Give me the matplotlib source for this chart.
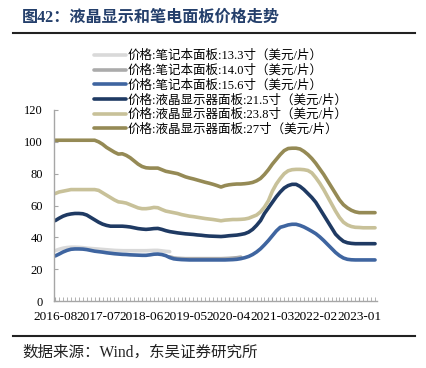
import matplotlib
matplotlib.use("Agg")
import matplotlib.pyplot as plt
import numpy as np

plt.rcParams["font.family"] = ["Liberation Serif", "Noto Sans CJK SC"]

nan = np.nan

# monthly, 2016-08 .. 2023-05
months = [f"{2016 + (7 + i) // 12}-{(7 + i) % 12 + 1:02d}" for i in range(82)]
tick_idx = [0, 11, 22, 33, 44, 55, 66, 77]

p133 = [31.6, 32.5, 33.2, 33.6, 33.8, 33.8, 33.7, 33.5, 33.2, 33.0,
        32.8, 32.6, 32.4, 32.2, 32.0, 31.8, 31.7, 31.6, 31.6, 31.6,
        31.6, 31.6, 31.6, 31.6, 31.7, 31.8, 31.8, 31.5, 31.2, 31.0] + [nan] * 52

# mostly hidden under the 15.6 line
p140 = [nan] * 29 + [
    27.8, 27.1, 26.8, 26.7, 26.6, 26.6, 26.6, 26.6, 26.6, 26.6,
    26.6, 26.6, 26.6, 26.6, 26.7, 26.8, 27.0, 27.2, 27.6] + [nan] * 34

p156 = [28.3, 29.5, 30.8, 31.8, 32.5, 32.7, 32.7, 32.6, 32.3, 31.8,
        31.3, 31.0, 30.7, 30.3, 30.0, 29.7, 29.5, 29.3, 29.2, 29.0,
        28.9, 28.8, 28.7, 28.7, 29.0, 29.4, 29.5, 29.2, 28.5, 27.3,
        26.5, 26.2, 26.0, 25.9, 25.8, 25.8, 25.8, 25.8, 25.8, 25.8,
        25.8, 25.8, 25.8, 25.8, 25.9, 26.0, 26.2, 26.6, 27.2, 28.0,
        29.2, 30.8, 32.8, 35.3, 38.0, 41.0, 44.0, 46.3, 47.0, 47.8,
        48.2, 48.2, 47.5, 46.5, 45.2, 43.8, 42.3, 40.3, 38.0, 35.5,
        33.0, 30.5, 28.5, 27.0, 26.2, 25.9, 25.8, 25.8, 25.8, 25.8,
        25.8, 25.8]

p215 = [50.5, 52.0, 53.3, 54.2, 54.7, 55.0, 55.0, 54.8, 54.0, 52.5,
        51.0, 49.5, 48.3, 47.5, 47.0, 47.0, 47.0, 47.0, 46.8, 46.5,
        46.0, 45.5, 45.2, 45.0, 45.2, 45.5, 45.6, 45.0, 44.2, 43.6,
        43.2, 42.8, 42.5, 42.2, 42.0, 41.8, 41.5, 41.3, 41.0, 40.8,
        40.7, 40.6, 40.5, 40.7, 41.0, 41.2, 41.4, 41.8, 42.3, 43.3,
        45.0, 47.5, 50.5, 55.0, 58.5, 62.0, 65.5, 68.5, 71.0, 72.5,
        73.3, 73.3, 72.0, 70.0, 67.5, 65.0, 62.0, 58.0, 54.0, 50.0,
        46.0, 42.0, 39.5, 37.5, 36.6, 36.2, 36.0, 36.0, 36.0, 36.0,
        36.0, 36.0]

p238 = [67.5, 68.5, 69.0, 69.5, 70.0, 70.0, 70.0, 70.0, 70.0, 70.0,
        70.0, 69.5, 68.0, 66.5, 65.0, 63.5, 62.3, 62.0, 61.5, 60.5,
        59.5, 58.5, 58.0, 58.0, 58.3, 58.8, 58.6, 57.5, 56.5, 56.0,
        55.5, 55.0, 54.3, 53.8, 53.3, 53.0, 52.6, 52.2, 51.8, 51.5,
        51.2, 50.8, 50.4, 50.8, 51.0, 51.2, 51.2, 51.3, 51.5, 52.0,
        53.0, 54.0, 56.0, 59.0, 63.0, 69.0, 73.5, 77.0, 80.0, 81.8,
        82.5, 82.7, 82.7, 82.5, 82.0, 80.5, 77.5, 74.0, 70.0, 65.5,
        61.0, 56.5, 52.5, 49.5, 47.8, 46.8, 46.3, 46.2, 46.0, 46.0,
        46.0, 46.0]

p270 = [101.0, 101.0, 101.0, 101.0, 101.0, 101.0, 101.0, 101.0, 101.0, 101.0,
        101.0, 100.0, 98.5, 96.5, 95.0, 93.5, 92.3, 92.5, 91.5, 90.0,
        88.0, 86.0, 84.5, 83.7, 83.5, 83.5, 83.5, 82.5, 81.5, 81.0,
        80.5, 80.0, 79.0, 78.0, 77.3, 76.7, 76.0, 75.3, 74.6, 74.0,
        73.3, 72.5, 71.6, 72.5, 73.0, 73.3, 73.5, 73.5, 73.7, 74.0,
        74.5, 75.5, 77.0, 79.5, 82.5, 86.0, 89.0, 92.0, 94.5, 95.8,
        96.0, 96.0, 95.5, 94.0, 92.0, 89.5, 86.5, 83.0, 79.5, 75.5,
        71.5, 67.5, 63.5, 60.5, 58.5, 57.0, 56.0, 55.5, 55.5, 55.5,
        55.5, 55.5]

series = [
    ("价格:笔记本面板:13.3寸（美元/片）", p133, "#D9D9D9"),
    ("价格:笔记本面板:14.0寸（美元/片）", p140, "#ABABAB"),
    ("价格:笔记本面板:15.6寸（美元/片）", p156, "#3F65A0"),
    ("价格:液晶显示器面板:21.5寸（美元/片）", p215, "#1F3A63"),
    ("价格:液晶显示器面板:23.8寸（美元/片）", p238, "#C8C199"),
    ("价格:液晶显示器面板:27寸（美元/片）", p270, "#958A55"),
]

fig = plt.figure(figsize=(4.27, 3.68), dpi=100)
ax = fig.add_axes([54 / 427, 1 - 301 / 368, (377 - 54) / 427, (301 - 110) / 368])

x = np.arange(len(months))
for label, vals, color in series:
    ax.plot(x, vals, color=color, lw=2.6, label=label, solid_capstyle="round")

ax.set_ylim(0, 120)
ax.set_yticks(range(0, 121, 20))
ax.set_xlim(-0.3, 81.5)
ax.set_xticks(tick_idx)
ax.set_xticklabels([months[i] for i in tick_idx])
ax.set_xticks(x, minor=True)
for s in ["top", "right"]:
    ax.spines[s].set_visible(False)
for s in ["left", "bottom"]:
    ax.spines[s].set_color("#A6A6A6")
    ax.spines[s].set_linewidth(1.0)
ax.tick_params(axis="y", direction="in", length=3, color="#A6A6A6", pad=8, labelsize=9)
ax.tick_params(axis="x", which="both", direction="in", length=3, color="#A6A6A6", pad=7, labelsize=9.5)

fig.legend(loc="upper left", bbox_to_anchor=(94 / 427, 1 - 50 / 368), frameon=False,
           fontsize=9, handlelength=2.6, handletextpad=0.1, labelspacing=0.2,
           borderaxespad=0, borderpad=0)

fig.text(22 / 427, 1 - 18 / 368, "图42：液晶显示和笔电面板价格走势", fontsize=11.6,
         fontweight="bold", color="#243F6B", va="center", ha="left")
fig.add_artist(plt.Line2D([13 / 427, 415 / 427], [1 - 33 / 368] * 2, color="#222222", lw=1.5))
fig.add_artist(plt.Line2D([13 / 427, 415 / 427], [1 - 336 / 368] * 2, color="#222222", lw=1.5))
fig.text(22 / 427, 1 - 353 / 368, "数据来源：Wind，东吴证券研究所", fontsize=11.2,
         color="#222222", va="center", ha="left")

fig.savefig("out.png", dpi=100)
